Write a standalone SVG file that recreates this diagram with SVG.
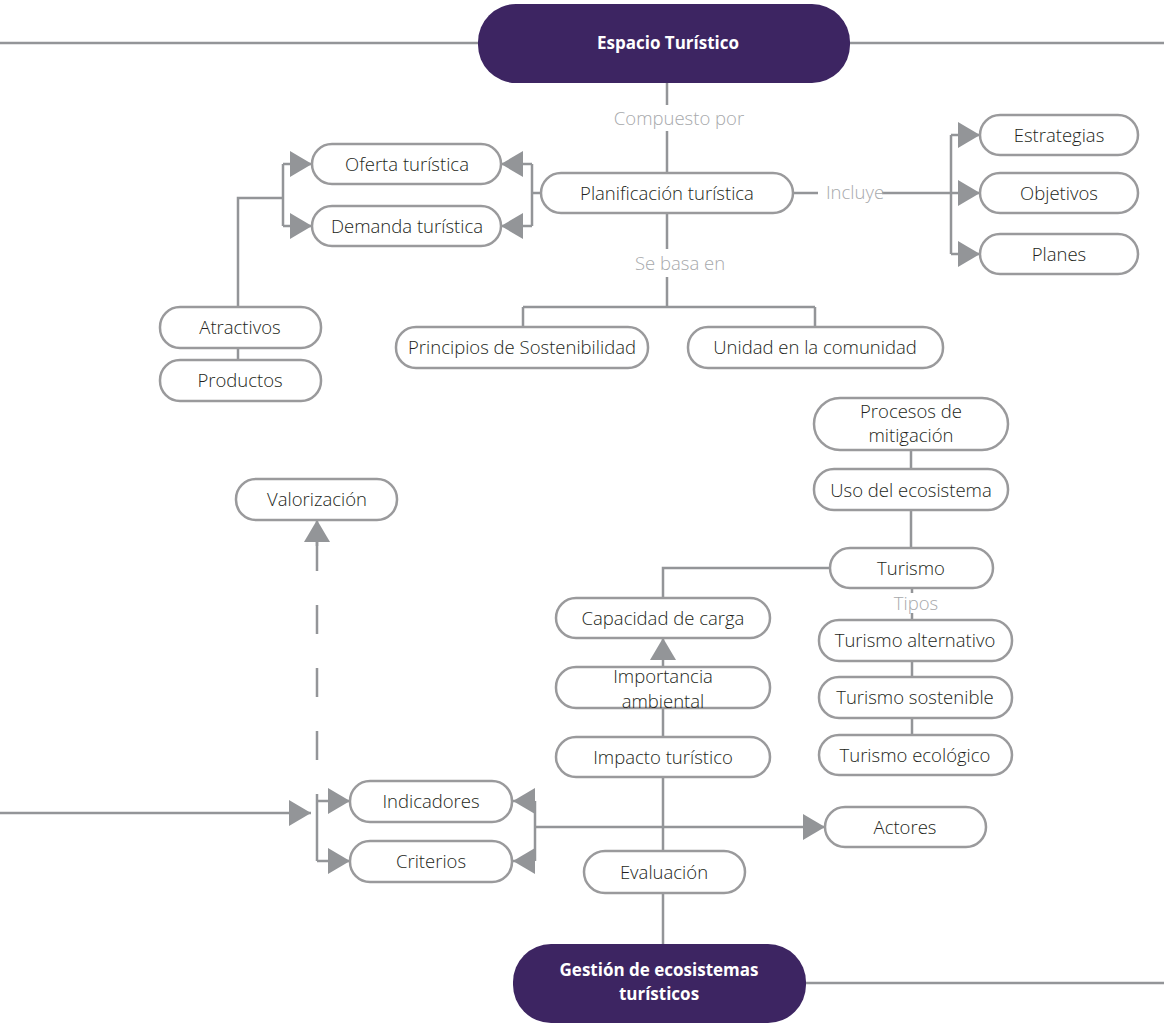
<svg xmlns="http://www.w3.org/2000/svg" width="1164" height="1024" viewBox="0 0 1164 1024">
<style>
.box{fill:#fff;stroke:#9a9a9c;stroke-width:2.5}
.main{fill:#3d2562}
.t{font-family:"Open Sans","Liberation Sans",sans-serif;font-size:18.5px;font-weight:300;fill:#231f20;text-anchor:middle;dominant-baseline:central}
.tb{font-family:"Open Sans","Liberation Sans",sans-serif;font-size:17px;font-weight:bold;fill:#fff;text-anchor:middle;dominant-baseline:central}
.lbl{font-family:"Open Sans","Liberation Sans",sans-serif;font-size:18.5px;font-weight:300;fill:#a7a9ac;text-anchor:middle;dominant-baseline:central}
.c{fill:none;stroke:#939598;stroke-width:2.5}
.ar{marker-end:url(#ah)}
.dash{stroke-dasharray:29 34}
</style>
<defs>
<marker id="ah" markerUnits="userSpaceOnUse" markerWidth="22" markerHeight="26" refX="22" refY="13" orient="auto">
<path d="M0,0 L22,13 L0,26 Z" fill="#939598"/>
</marker>
</defs>
<rect width="1164" height="1024" fill="#fff"/>
<g id="connectors">
<path class="c" d="M478,43 H-10 V813 H290"/>
<path class="c ar" d="M289,813 H311"/>
<path class="c" d="M850,43 H1172 V983 H806"/>
<path class="c" d="M667,83 V105 M667,131 V173"/>
<path class="c" d="M667,213 V249 M667,277 V307 M523,307 H815 M523,307 V327 M815,307 V327"/>
<path class="c" d="M793,193 H818 M882,193 H951 M951,135 V254"/>
<path class="c ar" d="M951,135 H980"/>
<path class="c ar" d="M951,193 H980"/>
<path class="c ar" d="M951,254 H980"/>
<path class="c" d="M541,193 H532 M532,164 V226"/>
<path class="c ar" d="M532,164 H501"/>
<path class="c ar" d="M532,226 H501"/>
<path class="c" d="M283,164 V226 M283,198 H238 V307"/>
<path class="c ar" d="M283,164 H312"/>
<path class="c ar" d="M283,226 H312"/>
<path class="c" d="M238,348 V360"/>
<path class="c" d="M911,450 V469 M911,510 V548 M830,568 H663 V598"/>
<path class="c ar" d="M663,667 V638"/>
<path class="c" d="M663,708 V737 M663,777 V851 M663,893 V944"/>
<path class="c" d="M912,588 V593 M912,613 V620 M912,661 V677 M912,718 V735"/>
<path class="c dash" d="M317,542 V796"/>
<path class="c ar" d="M317,546 V520"/>
<path class="c" d="M317,796 V861"/>
<path class="c ar" d="M317,801 H350"/>
<path class="c ar" d="M317,861 H350"/>
<path class="c" d="M535,801 V861"/>
<path class="c ar" d="M535,801 H513"/>
<path class="c ar" d="M535,861 H513"/>
<path class="c ar" d="M535,827 H825"/>
<text class="lbl" x="679" y="117">Compuesto por</text>
<text class="lbl" x="680" y="262">Se basa en</text>
<text class="lbl" x="855" y="191">Incluye</text>
<text class="lbl" x="916" y="602">Tipos</text>
</g>
<g id="espacio"><rect class="main" x="478" y="4" width="372" height="79" rx="38"/><text class="tb" x="668" y="42">Espacio Turístico</text></g>
<g id="planificacion"><rect class="box" x="541" y="173" width="252" height="40" rx="20"/><text class="t" x="667" y="192">Planificación turística</text></g>
<g id="estrategias"><rect class="box" x="980" y="115" width="158" height="40" rx="20"/><text class="t" x="1059" y="134">Estrategias</text></g>
<g id="objetivos"><rect class="box" x="980" y="173" width="158" height="40" rx="20"/><text class="t" x="1059" y="192">Objetivos</text></g>
<g id="planes"><rect class="box" x="980" y="234" width="158" height="40" rx="20"/><text class="t" x="1059" y="253">Planes</text></g>
<g id="oferta"><rect class="box" x="312" y="144" width="189" height="40" rx="20"/><text class="t" x="407" y="163">Oferta turística</text></g>
<g id="demanda"><rect class="box" x="312" y="206" width="189" height="40" rx="20"/><text class="t" x="407" y="225">Demanda turística</text></g>
<g id="atractivos"><rect class="box" x="160" y="307" width="161" height="41" rx="20"/><text class="t" x="240" y="326">Atractivos</text></g>
<g id="productos"><rect class="box" x="160" y="360" width="161" height="41" rx="20"/><text class="t" x="240" y="379">Productos</text></g>
<g id="principios"><rect class="box" x="396" y="327" width="252" height="41" rx="20"/><text class="t" x="522" y="346">Principios de Sostenibilidad</text></g>
<g id="unidad"><rect class="box" x="688" y="327" width="255" height="41" rx="20"/><text class="t" x="815" y="346">Unidad en la comunidad</text></g>
<g id="procesos"><rect class="box" x="814" y="398" width="194" height="52" rx="26"/><text class="t" x="911" y="410">Procesos de</text><text class="t" x="911" y="434">mitigación</text></g>
<g id="uso"><rect class="box" x="814" y="469" width="194" height="41" rx="20"/><text class="t" x="911" y="489">Uso del ecosistema</text></g>
<g id="turismo"><rect class="box" x="830" y="548" width="163" height="40" rx="20"/><text class="t" x="911" y="567">Turismo</text></g>
<g id="capacidad"><rect class="box" x="556" y="598" width="214" height="40" rx="20"/><text class="t" x="663" y="617">Capacidad de carga</text></g>
<g id="importancia"><rect class="box" x="556" y="667" width="214" height="41" rx="20"/><text class="t" x="663" y="675">Importancia</text><text class="t" x="663" y="700">ambiental</text></g>
<g id="impacto"><rect class="box" x="556" y="737" width="214" height="40" rx="20"/><text class="t" x="663" y="756">Impacto turístico</text></g>
<g id="alternativo"><rect class="box" x="819" y="620" width="193" height="41" rx="20"/><text class="t" x="915" y="639">Turismo alternativo</text></g>
<g id="sostenible"><rect class="box" x="819" y="677" width="193" height="41" rx="20"/><text class="t" x="915" y="696">Turismo sostenible</text></g>
<g id="ecologico"><rect class="box" x="819" y="735" width="193" height="40" rx="20"/><text class="t" x="915" y="754">Turismo ecológico</text></g>
<g id="valorizacion"><rect class="box" x="236" y="479" width="161" height="41" rx="20"/><text class="t" x="317" y="498">Valorización</text></g>
<g id="indicadores"><rect class="box" x="350" y="781" width="162" height="41" rx="20"/><text class="t" x="431" y="800">Indicadores</text></g>
<g id="criterios"><rect class="box" x="350" y="841" width="162" height="41" rx="20"/><text class="t" x="431" y="860">Criterios</text></g>
<g id="actores"><rect class="box" x="825" y="807" width="161" height="40" rx="20"/><text class="t" x="905" y="826">Actores</text></g>
<g id="evaluacion"><rect class="box" x="584" y="851" width="161" height="42" rx="21"/><text class="t" x="664" y="871">Evaluación</text></g>
<g id="gestion"><rect class="main" x="513" y="944" width="293" height="79" rx="38"/><text class="tb" x="659" y="969">Gestión de ecosistemas</text><text class="tb" x="659" y="993">turísticos</text></g>
</svg>
